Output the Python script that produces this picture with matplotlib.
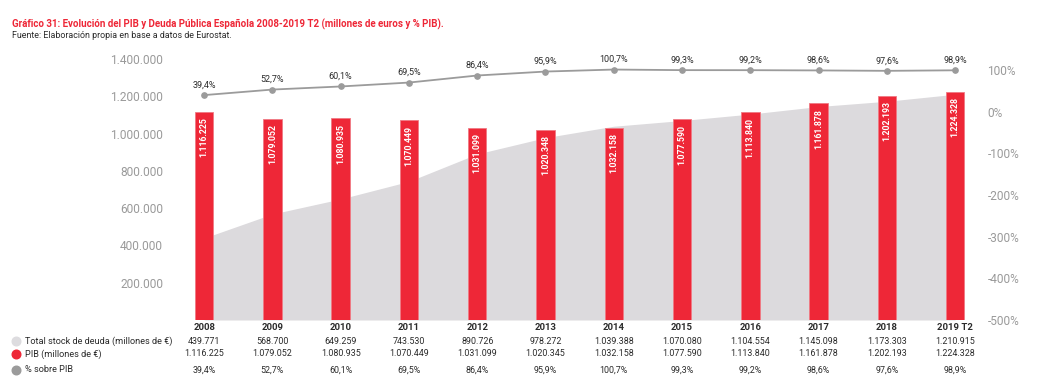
import matplotlib
matplotlib.use("Agg")
import matplotlib.pyplot as plt
from matplotlib.lines import Line2D
from matplotlib.transforms import blended_transform_factory

plt.rcParams['font.family'] = ['Roboto', 'DejaVu Sans']

# data
years = ['2008', '2009', '2010', '2011', '2012', '2013', '2014', '2015',
         '2016', '2017', '2018', '2019 T2']
deuda = [439771, 568700, 649259, 743530, 890726, 978272, 1039388, 1070080,
         1104554, 1145098, 1173303, 1210915]
pib = [1116225, 1079052, 1080935, 1070449, 1031099, 1020345, 1032158, 1077590,
       1113840, 1161878, 1202193, 1224328]
# labels inside the bars (as printed in the chart)
pib_bar_labels = ['1.116.225', '1.079.052', '1.080.935', '1.070.449', '1.031.099',
                  '1.020.348', '1.032.158', '1.077.590', '1.113.840', '1.161.878',
                  '1.202.193', '1.224.328']
pct = [39.4, 52.7, 60.1, 69.5, 86.4, 95.9, 100.7, 99.3, 99.2, 98.6, 97.6, 98.9]

RED = '#ee2737'
AREA = '#dcdadd'
LINE = '#9b9b9b'
TICK = '#9a9a9a'
DARK = '#2b2b2b'


def fmt_es(v):
    return '{:,}'.format(v).replace(',', '.')


def fmt_pct(v):
    return ('%.1f%%' % v).replace('.', ',')


W, H = 1043, 389
fig = plt.figure(figsize=(W / 100, H / 100), dpi=100)

# axes placed in pixels: x from 170 to 979, y from 59 to 320
ax_l, ax_r, ax_t, ax_b = 170, 979, 59, 320
ax = fig.add_axes([ax_l / W, 1 - ax_b / H, (ax_r - ax_l) / W, (ax_b - ax_t) / H])
x = list(range(len(years)))

ax.fill_between(x, deuda, 0, color=AREA, lw=0, zorder=1)
ax.bar(x, pib, width=0.27, color=RED, edgecolor='#f07a84', linewidth=0.6, zorder=2)
for i, v in enumerate(pib):
    ax.annotate(pib_bar_labels[i], (i, v), xytext=(0, -4), textcoords='offset points',
                rotation=90, ha='center', va='top', color='white', fontsize=6.3,
                fontweight='bold', zorder=3, family=['Liberation Sans Narrow', 'Roboto', 'DejaVu Sans'])

ax.set_xlim(-0.5, 11.35)
ax.set_ylim(0, 1400000)
ax.set_yticks(range(200000, 1400001, 200000))
ax.set_yticklabels([fmt_es(v) for v in range(200000, 1400001, 200000)])
ax.tick_params(axis='y', length=0, pad=5, labelcolor=TICK, labelsize=8.6)
ax.set_xticks(x)
ax.set_xticklabels(years, fontweight='bold', color=DARK)
ax.tick_params(axis='x', length=0, pad=2, labelsize=6.8)
for s in ax.spines.values():
    s.set_visible(False)

ax2 = ax.twinx()
ax2.plot(x, pct, color=LINE, lw=1.3, marker='o', ms=3.8, zorder=4)
for i, v in enumerate(pct):
    ax2.annotate(fmt_pct(v), (i, v), xytext=(0, 4), textcoords='offset points',
                 ha='center', va='bottom', fontsize=6.5, color=DARK, clip_on=False)
ax2.set_ylim(-500, 126)
ax2.set_yticks(range(-500, 101, 100))
ax2.set_yticklabels(['%d%%' % v for v in range(-500, 101, 100)])
ax2.tick_params(axis='y', length=0, pad=6, labelcolor=TICK, labelsize=8.6)
for s in ax2.spines.values():
    s.set_visible(False)

# title and source
fig.text(12 / W, 1 - 24 / H, 'Gráfico 31: Evolución del PIB y Deuda Pública Española 2008-2019 T2 '
         '(millones de euros y % PIB).', color=RED, fontweight='bold', fontsize=7.0,
         va='center', ha='left')
fig.text(12 / W, 1 - 36 / H, 'Fuente: Elaboración propia en base a datos de Eurostat.',
         color=DARK, fontsize=6.4, va='center', ha='left')

# table below the chart
tr = blended_transform_factory(ax.transData, fig.transFigure)
rows = [
    ('Total stock de deuda (millones de €)', '#dddcdf', [fmt_es(v) for v in deuda], 341),
    ('PIB (millones de €)', RED, [fmt_es(v) for v in pib], 354),
    ('% sobre PIB', LINE, [fmt_pct(v) for v in pct], 370),
]
for label, col, vals, ypx in rows:
    yf = 1 - ypx / H
    fig.add_artist(Line2D([16 / W], [yf], marker='o', ms=6.2, color=col, lw=0,
                          transform=fig.transFigure))
    fig.text(25 / W, yf, label, fontsize=6.6, color=DARK, va='center', ha='left')
    for i, t in enumerate(vals):
        ax.text(i, yf, t, transform=tr, fontsize=6.4, color=DARK, ha='center', va='center')

fig.savefig('out.png', dpi=100)
